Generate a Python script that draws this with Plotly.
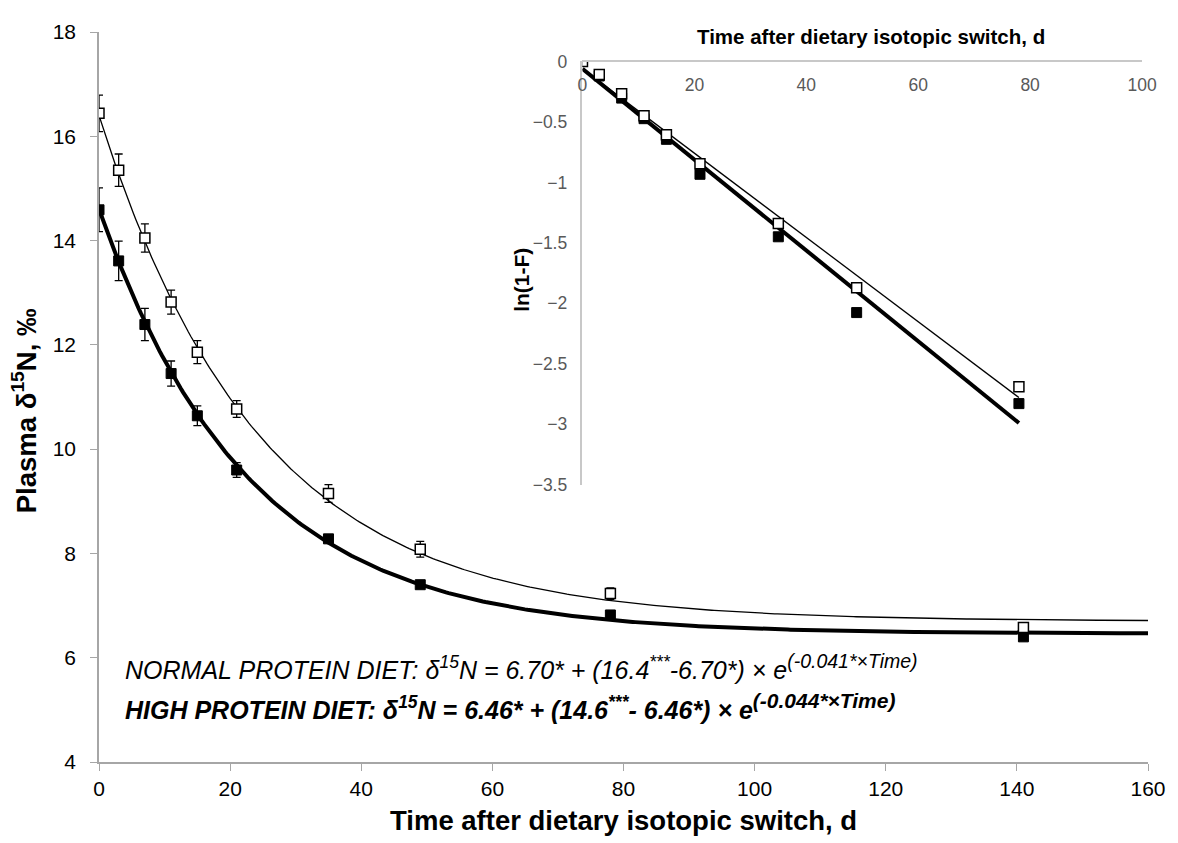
import numpy as np
import plotly.graph_objects as go

# ---- main chart data ----
days = [0, 3, 7, 11, 15, 21, 35, 49, 78, 141]
normal_mean = [16.44, 15.35, 14.05, 12.82, 11.86, 10.77, 9.15, 8.08, 7.23, 6.58]
normal_err = [0.35, 0.31, 0.27, 0.23, 0.22, 0.16, 0.17, 0.15, 0.11, 0.08]
high_mean = [14.59, 13.61, 12.39, 11.45, 10.64, 9.60, 8.28, 7.40, 6.82, 6.40]
high_err = [0.42, 0.38, 0.31, 0.24, 0.19, 0.14, 0.06, 0.06, 0.06, 0.06]

# fitted exponential parameters (asymptote, initial, rate)
normal_fit = [6.70, 16.4, 0.041]
high_fit = [6.46, 14.6, 0.044]

# ---- inset data ----
inset_days = [0, 3, 7, 11, 15, 21, 35, 49, 78]
inset_normal = [0.0, -0.108, -0.267, -0.449, -0.605, -0.845, -1.34, -1.871, -2.69]
inset_high = [0.0, -0.12, -0.303, -0.473, -0.644, -0.933, -1.45, -2.077, -2.83]
inset_line_t = [0, 78]
inset_normal_line = [-0.061, -2.78]
inset_high_line = [-0.061, -2.99]

main_xticks = [0, 20, 40, 60, 80, 100, 120, 140, 160]
main_yticks = [4, 6, 8, 10, 12, 14, 16, 18]
inset_xticks = [0, 20, 40, 60, 80, 100]
inset_yticks = [0, -0.5, -1, -1.5, -2, -2.5, -3, -3.5]

FONT = "Liberation Sans, Arial, sans-serif"

t = np.linspace(0, 160, 400)
normal_curve = normal_fit[0] + (normal_fit[1] - normal_fit[0]) * np.exp(-normal_fit[2] * t)
high_curve = high_fit[0] + (high_fit[1] - high_fit[0]) * np.exp(-high_fit[2] * t)

fig = go.Figure()

# main fitted curves
fig.add_trace(go.Scatter(x=t, y=normal_curve, mode="lines",
                         line=dict(color="black", width=1.3), showlegend=False))
fig.add_trace(go.Scatter(x=t, y=high_curve, mode="lines",
                         line=dict(color="black", width=4), showlegend=False))
# main points
fig.add_trace(go.Scatter(x=days, y=high_mean, mode="markers",
                         marker=dict(symbol="square", size=10, color="black",
                                     line=dict(color="black", width=1)),
                         error_y=dict(type="data", array=high_err, color="black",
                                      thickness=1.3, width=4),
                         showlegend=False))
fig.add_trace(go.Scatter(x=days, y=normal_mean, mode="markers",
                         marker=dict(symbol="square", size=10, color="white",
                                     line=dict(color="black", width=1.5)),
                         error_y=dict(type="data", array=normal_err, color="black",
                                      thickness=1.3, width=4),
                         showlegend=False))

# inset lines
fig.add_trace(go.Scatter(x=inset_line_t, y=inset_normal_line, mode="lines",
                         line=dict(color="black", width=1.3), xaxis="x2", yaxis="y2",
                         showlegend=False))
fig.add_trace(go.Scatter(x=inset_line_t, y=inset_high_line, mode="lines",
                         line=dict(color="black", width=4), xaxis="x2", yaxis="y2",
                         showlegend=False))
# inset points
fig.add_trace(go.Scatter(x=inset_days, y=inset_high, mode="markers",
                         marker=dict(symbol="square", size=10, color="black",
                                     line=dict(color="black", width=1)),
                         xaxis="x2", yaxis="y2", showlegend=False))
fig.add_trace(go.Scatter(x=inset_days, y=inset_normal, mode="markers",
                         marker=dict(symbol="square", size=10, color="white",
                                     line=dict(color="black", width=1.5)),
                         xaxis="x2", yaxis="y2", showlegend=False))

normal_eq = ("<i>NORMAL PROTEIN DIET: δ<sup>15</sup>N = 6.70* + (16.4<sup>***</sup>-6.70*) × "
             "e<sup><span style='font-size:19.5px'>(-0.041*×Time)</span></sup></i>")
high_eq = ("<b><i>HIGH PROTEIN DIET: δ<sup>15</sup>N = 6.46* + (14.6<sup>***</sup>- 6.46*) × "
           "e<sup><span style='font-size:21px'>(-0.044*×Time)</span></sup></i></b>")

fig.update_layout(
    width=1170, height=835, autosize=False,
    margin=dict(l=91, r=25, t=12, b=81),
    paper_bgcolor="white", plot_bgcolor="white",
    font=dict(family=FONT, color="black"),
    xaxis=dict(range=[0, 160], tickvals=main_xticks, showgrid=False, zeroline=False,
               showline=True, linecolor="#a6a6a6", linewidth=1.5,
               ticks="outside", ticklen=7, tickcolor="#a6a6a6",
               tickfont=dict(size=21, color="black", family=FONT)),
    yaxis=dict(range=[4, 18], tickvals=main_yticks, showgrid=False, zeroline=False,
               showline=True, linecolor="#a6a6a6", linewidth=1.5,
               ticks="outside", ticklen=7, tickcolor="#a6a6a6", ticklabelstandoff=10,
               tickfont=dict(size=21, color="black", family=FONT)),
    xaxis2=dict(domain=[0.4609, 0.9943], range=[0, 100], tickvals=inset_xticks,
                anchor="free", position=0.9596, side="bottom",
                showgrid=False, zeroline=False, showline=True,
                linecolor="#c8c8c8", linewidth=1.5,
                ticks="outside", ticklen=8, tickcolor="rgba(0,0,0,0)",
                tickfont=dict(size=17.5, color="#595959", family=FONT)),
    yaxis2=dict(domain=[0.380, 0.9596], range=[-3.5, 0], tickvals=inset_yticks,
                anchor="x2", showgrid=False, zeroline=False, showline=True,
                linecolor="#c8c8c8", linewidth=1.5,
                ticks="outside", ticklen=10, tickcolor="rgba(0,0,0,0)",
                tickfont=dict(size=17.5, color="#595959", family=FONT)),
    annotations=[
        dict(text="<b>Time after dietary isotopic switch, d</b>", xref="paper", yref="paper",
             x=0.5, y=-0.0805, xanchor="center", yanchor="middle", showarrow=False,
             font=dict(size=27.5, family=FONT, color="black")),
        dict(text="<b>Plasma δ<sup>15</sup>N, ‰</b>", xref="paper", yref="paper",
             x=-0.0702, y=0.481, xanchor="center", yanchor="middle", showarrow=False,
             textangle=-90, font=dict(size=27.5, family=FONT, color="black")),
        dict(text="<b>Time after dietary isotopic switch, d</b>", xref="paper", yref="paper",
             x=0.736, y=0.9933, xanchor="center", yanchor="middle", showarrow=False,
             font=dict(size=20.5, family=FONT, color="black")),
        dict(text="<b>ln(1-F)</b>", xref="paper", yref="paper",
             x=0.4032, y=0.6604, xanchor="center", yanchor="middle", showarrow=False,
             textangle=-90, font=dict(size=21, family=FONT, color="black")),
        dict(text=normal_eq,
             xref="paper", yref="paper", x=0.0228, y=0.1307, xanchor="left", yanchor="middle",
             showarrow=False, font=dict(size=25, family=FONT, color="black")),
        dict(text=high_eq,
             xref="paper", yref="paper", x=0.0228, y=0.0759, xanchor="left", yanchor="middle",
             showarrow=False, font=dict(size=25, family=FONT, color="black")),
    ],
)

fig.write_html("out.html")
